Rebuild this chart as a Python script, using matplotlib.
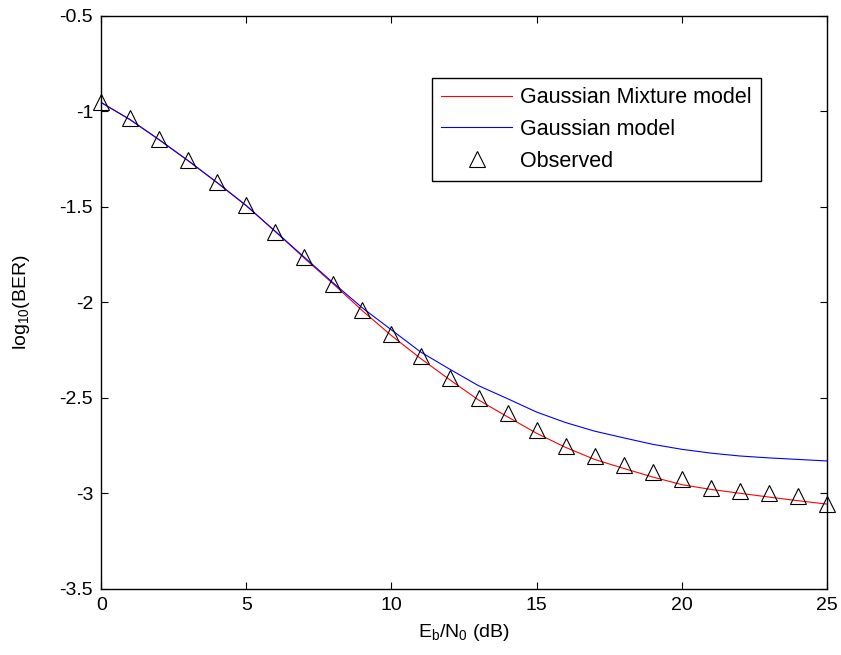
import matplotlib
matplotlib.use('Agg')
import matplotlib.pyplot as plt

plt.rcParams['font.family'] = ['Liberation Sans', 'DejaVu Sans']
plt.rcParams['mathtext.default'] = 'regular'
plt.rcParams['mathtext.fontset'] = 'custom'
plt.rcParams['mathtext.rm'] = 'Liberation Sans'

# Eb/N0 (dB)
snr_db = list(range(26))

# 가우시안 혼합 모델
gmm = [-0.955, -1.045, -1.15, -1.26, -1.375, -1.495, -1.63, -1.77, -1.905, -2.045,
       -2.175, -2.294, -2.405, -2.512, -2.60, -2.686, -2.76, -2.823, -2.87, -2.915,
       -2.955, -2.98, -3.0, -3.02, -3.039, -3.057]

# 가우시안 모델
gauss = [-0.955, -1.045, -1.15, -1.26, -1.375, -1.495, -1.63, -1.765, -1.90, -2.03,
         -2.145, -2.26, -2.35, -2.437, -2.505, -2.575, -2.63, -2.675, -2.71, -2.744,
         -2.77, -2.79, -2.805, -2.815, -2.823, -2.831]

# 관측값
observed = [-0.95, -1.036, -1.144, -1.257, -1.369, -1.491, -1.631, -1.763, -1.904, -2.04,
            -2.166, -2.283, -2.396, -2.501, -2.58, -2.667, -2.754, -2.806, -2.85, -2.888,
            -2.928, -2.972, -2.989, -2.998, -3.016, -3.054]

fig = plt.figure(figsize=(8.41, 6.55), dpi=100)
ax = fig.add_axes([0.1205, 0.1012, 0.8625, 0.8748])

ax.plot(snr_db, gmm, color='red', lw=0.8, label='Gaussian Mixture model')
ax.plot(snr_db, gauss, color='blue', lw=0.8, label='Gaussian model')
ax.plot(snr_db, observed, linestyle='none', marker='^', ms=11, mfc='none',
        mec='black', mew=0.8, label='Observed', clip_on=False)

ax.set_xlim(0, 25)
ax.set_ylim(-3.5, -0.5)
ax.set_xticks([0, 5, 10, 15, 20, 25])
ax.set_yticks([-3.5, -3, -2.5, -2, -1.5, -1, -0.5])
ax.set_yticklabels(['-3.5', '-3', '-2.5', '-2', '-1.5', '-1', '-0.5'])
ax.tick_params(direction='in', top=True, right=True, length=5, labelsize=14, pad=6)
for s in ax.spines.values():
    s.set_linewidth(1.0)

ax.set_xlabel(r'E$_b$/N$_0$ (dB)', fontsize=14, labelpad=6)
ax.set_ylabel(r'log$_{10}$(BER)', fontsize=14, labelpad=20)

leg = ax.legend(loc='upper right', bbox_to_anchor=(0.909, 0.891), fontsize=15.5,
                fancybox=False, edgecolor='black', framealpha=1, handlelength=3.3,
                labelspacing=0.5, borderpad=0.42, handletextpad=0.35, borderaxespad=0)
leg.get_frame().set_linewidth(1.0)

fig.savefig('out.png', dpi=100)
plt.close(fig)
